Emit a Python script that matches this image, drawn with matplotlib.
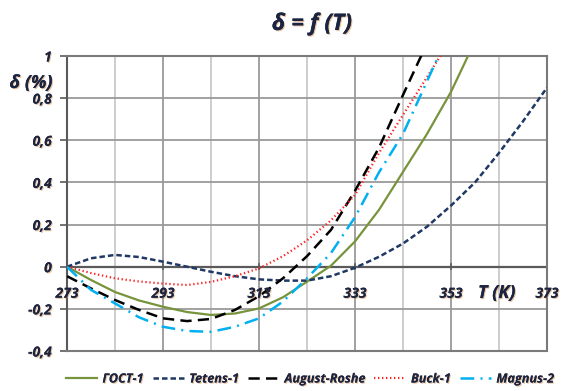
import matplotlib
matplotlib.use("Agg")
import matplotlib.pyplot as plt
import matplotlib.patheffects as pe
from matplotlib.ticker import FixedLocator

# ---- data ----
T_gost = [273, 278, 283, 288, 293, 298, 303, 308, 313, 318, 323, 328, 333, 338, 343, 348, 353, 358]
gost = [0.0, -0.063, -0.12, -0.16, -0.19, -0.215, -0.229, -0.222, -0.198, -0.145, -0.071, 0.005, 0.12, 0.27, 0.45, 0.63, 0.83, 1.07]

T_tetens = [273, 278, 283, 288, 293, 298, 303, 308, 313, 318, 323, 328, 333, 338, 343, 348, 353, 358, 363, 368, 373]
tetens = [0.0, 0.04, 0.056, 0.046, 0.024, 0.0, -0.024, -0.045, -0.06, -0.066, -0.066, -0.045, -0.005, 0.047, 0.11, 0.19, 0.29, 0.40, 0.54, 0.69, 0.85]

T_august = [273, 278, 283, 288, 293, 298, 303, 308, 313, 318, 323, 328, 333, 338, 343, 348]
august = [-0.045, -0.103, -0.158, -0.205, -0.245, -0.258, -0.248, -0.205, -0.14, -0.055, 0.05, 0.175, 0.36, 0.565, 0.815, 1.06]

T_buck = [273, 278, 283, 288, 293, 298, 303, 308, 313, 318, 323, 328, 333, 338, 343, 348, 353]
buck = [0.0, -0.03, -0.055, -0.07, -0.08, -0.087, -0.072, -0.045, -0.008, 0.05, 0.125, 0.22, 0.34, 0.54, 0.72, 0.9, 1.08]

T_magnus = [273, 278, 283, 288, 293, 298, 303, 308, 313, 318, 323, 328, 333, 338, 343, 348, 353]
magnus = [0.0, -0.11, -0.174, -0.24, -0.285, -0.305, -0.309, -0.285, -0.245, -0.165, -0.055, 0.065, 0.235, 0.448, 0.63, 0.88, 1.13]

x_ticks = [273, 293, 313, 333, 353, 373]
x_minor = [283, 303, 323, 343, 363]
y_ticks = [-0.4, -0.2, 0, 0.2, 0.4, 0.6, 0.8, 1]
y_labels = ["-0,4", "-0,2", "0", "0,2", "0,4", "0,6", "0,8", "1"]
names = ["ГОСТ-1", "Tetens-1", "August-Roshe", "Buck-1", "Magnus-2"]

# ---- style ----
FAM = ["Open Sans", "DejaVu Sans"]
plt.rcParams["font.family"] = FAM
TXT = "#1B2440"
shadow = [pe.withSimplePatchShadow(offset=(0.8, -0.8), shadow_rgbFace="#C8782A", alpha=0.45), pe.Normal()]

fig = plt.figure(figsize=(5.73, 3.91), dpi=100)
ax = fig.add_axes([67/573, 1-351/391, 480/573, 295/391])

ax.set_xlim(273, 373)
ax.set_ylim(-0.4, 1.0)

# grid
for x in x_minor:
    ax.axvline(x, color="#c9c9c9", lw=1.3, zorder=0)
for x in x_ticks[1:-1]:
    ax.axvline(x, color="#9a9a9a", lw=1.3, zorder=0)
for y in y_ticks:
    ax.axhline(y, color="#9a9a9a", lw=1.3, zorder=0)
ax.axhline(0, color="#5a5a5a", lw=1.6, zorder=1)

lines = []
lines += ax.plot(T_gost, gost, color="#77933C", lw=1.6, zorder=3)
lines += ax.plot(T_tetens, tetens, color="#1F3864", lw=1.8, dashes=(2.2, 1.2), zorder=3)
lines += ax.plot(T_august, august, color="#000000", lw=1.8, dashes=(4.5, 2.5), zorder=3)
lines += ax.plot(T_buck, buck, color="#FF2020", lw=1.6, dashes=(0.6, 1.2), zorder=3)
lines += ax.plot(T_magnus, magnus, color="#00B0F0", lw=1.8, dashes=(5.5, 2.5, 0.8, 2.5), zorder=3)

for s in ax.spines.values():
    s.set_color("#7a7a7a")
    s.set_linewidth(1.5)
ax.spines["left"].set_color("#5a5a5a")

# ticks
ax.yaxis.set_major_locator(FixedLocator(y_ticks))
ax.set_yticklabels(y_labels)
ax.tick_params(axis="y", direction="out", length=5, width=1.2, color="#5a5a5a", pad=6)
ax.xaxis.set_major_locator(FixedLocator(x_ticks))
ax.set_xticklabels([])
ax.tick_params(axis="x", length=0)
for lab in ax.get_yticklabels():
    lab.set_fontsize(10)
    lab.set_fontweight("bold")
    lab.set_fontstyle("italic")
    lab.set_color(TXT)
    lab.set_path_effects(shadow)

# x tick labels near zero line
for x in x_ticks:
    ax.plot([x, x], [-0.012, 0.012], color="#5a5a5a", lw=1.2, zorder=2, clip_on=False)
    ax.text(x, -0.128, str(x), ha="center", va="center", fontsize=10, fontweight="bold",
            fontstyle="italic", color=TXT, path_effects=shadow)

ax.text(362.5, -0.125, "T (K)", ha="center", va="center", fontsize=13, fontweight="bold",
        fontstyle="italic", color=TXT, path_effects=shadow)
fig.text(31/573, 1-83/391, "δ (%)", ha="center", va="center", fontsize=13, fontweight="bold",
         fontstyle="italic", color=TXT, path_effects=shadow)
fig.text(312/573, 1-24/391, "δ = f (T)", ha="center", va="center", fontsize=16.5, fontweight="bold",
         fontstyle="italic", color=TXT, path_effects=shadow)

leg = fig.legend(lines, names, loc="center", bbox_to_anchor=(310/573, 1-379/391), ncol=5,
                 frameon=False, handlelength=2.5, handletextpad=0.4, columnspacing=0.7,
                 prop={"family": FAM, "weight": "bold", "style": "italic", "size": 9.1})
for t in leg.get_texts():
    t.set_color(TXT)
    t.set_path_effects(shadow)

fig.savefig("out.png", dpi=100)
